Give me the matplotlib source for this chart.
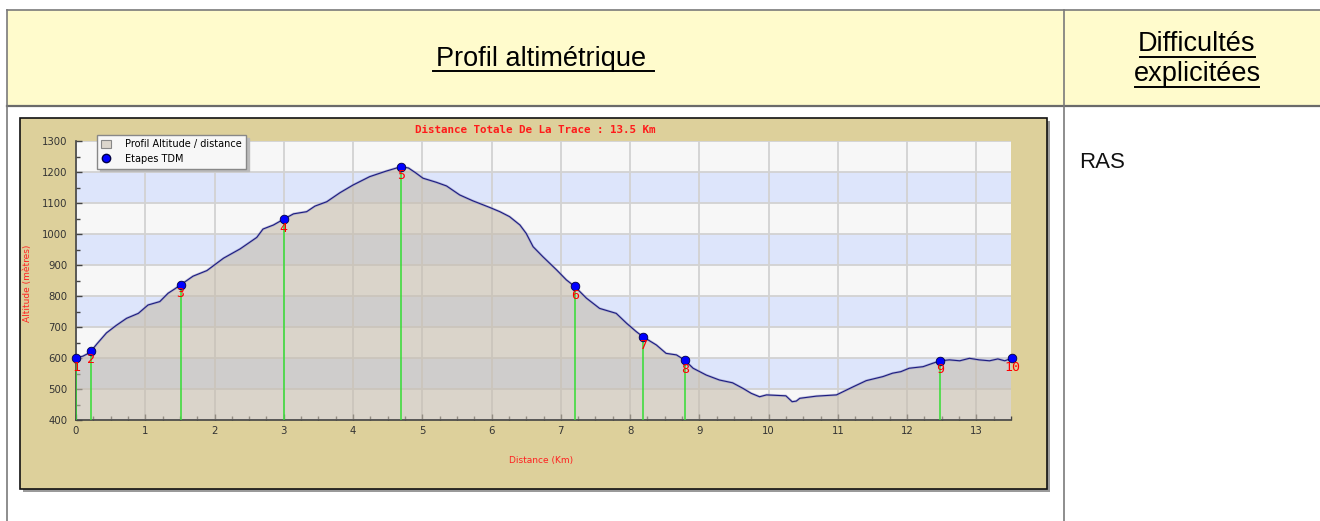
import matplotlib
matplotlib.use("Agg")
import matplotlib.pyplot as plt
from matplotlib.patches import Rectangle, Patch
from matplotlib.lines import Line2D
import numpy as np

# ---------------- data ----------------
dist_km = [0.00, 0.10, 0.17, 0.22, 0.30, 0.44, 0.58, 0.73, 0.90, 1.04, 1.21, 1.33, 1.42, 1.51,
           1.69, 1.89, 2.13, 2.37, 2.61, 2.70, 2.85, 3.00, 3.14, 3.33, 3.45, 3.62, 3.81, 4.00,
           4.24, 4.48, 4.69, 4.80, 4.90, 5.01, 5.20, 5.35, 5.54, 5.73, 5.97, 6.12, 6.26, 6.41,
           6.50, 6.60, 6.74, 6.94, 7.08, 7.20, 7.37, 7.56, 7.80, 7.95, 8.09, 8.19, 8.38, 8.52,
           8.67, 8.79, 8.91, 9.10, 9.29, 9.48, 9.63, 9.75, 9.87, 9.97, 10.25, 10.34, 10.40,
           10.45, 10.69, 10.98, 11.22, 11.41, 11.65, 11.79, 11.91, 12.03, 12.23, 12.37, 12.48,
           12.61, 12.76, 12.90, 13.04, 13.19, 13.31, 13.41, 13.52]
alt_m = [600, 606, 614, 623, 645, 681, 705, 728, 744, 771, 782, 809, 822, 836,
         864, 882, 922, 952, 989, 1016, 1029, 1048, 1065, 1072, 1090, 1104, 1133, 1158,
         1185, 1203, 1217, 1213, 1198, 1180, 1167, 1155, 1126, 1107, 1086, 1072, 1056, 1029,
         1002, 959, 927, 884, 852, 831, 793, 760, 744, 712, 685, 668, 642, 615,
         610, 593, 567, 545, 529, 520, 502, 486, 475, 481, 478, 459, 461,
         470, 477, 481, 507, 527, 540, 551, 556, 567, 572, 583, 591,
         594, 591, 599, 594, 591, 597, 591, 600]

wp_km = [0.00, 0.22, 1.51, 3.00, 4.69, 7.20, 8.19, 8.79, 12.48, 13.52]
wp_alt = [600, 623, 836, 1048, 1217, 831, 668, 593, 591, 600]
wp_labels = ["1", "2", "3", "4", "5", "6", "7", "8", "9", "10"]

y_ticks = [400, 500, 600, 700, 800, 900, 1000, 1100, 1200, 1300]
x_ticks = list(range(0, 14))

title_text = "Distance Totale De La Trace : 13.5 Km"
header_left = "Profil altimétrique"
header_right = ["Difficultés", "explicitées"]
body_right = "RAS"
legend_labels = ["Profil Altitude / distance", "Etapes TDM"]
xlabel = "Distance (Km)"
ylabel = "Altitude (mètres)"

# ---------------- figure ----------------
W, H = 1320, 521
fig = plt.figure(figsize=(W / 100, H / 100), dpi=100)
fig.patch.set_facecolor("white")

bg = fig.add_axes([0, 0, 1, 1])
bg.set_xlim(0, W)
bg.set_ylim(H, 0)
bg.axis("off")

# table header
bg.add_patch(Rectangle((7, 10), W - 7, 96, facecolor="#fffbcc", edgecolor="none", zorder=0))
grey = "#7a7a7a"
bg.plot([7, W], [10, 10], color=grey, lw=1.2)
bg.plot([7, W], [106, 106], color="#6a6a6a", lw=1.6)
bg.plot([7, 7], [10, H], color=grey, lw=1.2)
bg.plot([1064, 1064], [10, H], color=grey, lw=1.2)

hfont = ["Liberation Sans", "DejaVu Sans"]
bg.text(541, 59, header_left, ha="center", va="center", fontsize=19.5,
        family=hfont, color="black", fontweight="medium")
bg.plot([433, 654], [71, 71], color="black", lw=1.4)
bg.text(1197, 44, header_right[0], ha="center", va="center", fontsize=19.5, family=hfont)
bg.plot([1140, 1255], [57, 57], color="black", lw=1.4)
bg.text(1197, 74, header_right[1], ha="center", va="center", fontsize=19.5, family=hfont)
bg.plot([1135, 1259], [87, 87], color="black", lw=1.4)
bg.text(1079, 162, body_right, ha="left", va="center", fontsize=16,
        family=["Liberation Sans", "DejaVu Sans"], color="#111111")

# chart frame with shadow
bg.add_patch(Rectangle((23, 121), 1027, 371, facecolor="#9a9a9a", edgecolor="none", zorder=1))
bg.add_patch(Rectangle((20, 118), 1027, 371, facecolor="#ddd09b", edgecolor="#111111",
                       lw=1.2, zorder=2))
bg.text(535, 130, title_text, ha="center", va="center", fontsize=7.8,
        family="DejaVu Sans Mono", fontweight="bold", color="#ff1a1a", zorder=3)
bg.text(541, 460, xlabel, ha="center", va="center", fontsize=6.5, color="#ff2020", zorder=3)
bg.text(28, 283, ylabel, ha="center", va="center", fontsize=6.5, color="#ff2020",
        rotation=90, zorder=3)

# ---------------- plot ----------------
x0, x1, y0, y1 = 76, 1011, 141, 420
ax = fig.add_axes([x0 / W, 1 - y1 / H, (x1 - x0) / W, (y1 - y0) / H])
ax.set_xlim(0, 13.5)
ax.set_ylim(400, 1300)
ax.set_facecolor("#f7f7f7")

for i in range(len(y_ticks) - 1):
    if i % 2 == 1:
        ax.axhspan(y_ticks[i], y_ticks[i + 1], facecolor="#dde5fb", edgecolor="none", zorder=0)

ax.set_xticks(x_ticks)
ax.set_yticks(y_ticks)
ax.set_xticks(np.arange(0, 13.51, 0.25), minor=True)
ax.set_yticks(np.arange(400, 1301, 50), minor=True)
ax.grid(True, which="major", color="#d2d2d2", lw=1.3, zorder=0.5)
ax.set_axisbelow(True)

ax.fill_between(dist_km, alt_m, 400, facecolor=(0.78, 0.74, 0.68), alpha=0.6,
                edgecolor="none", zorder=1)
ax.plot(dist_km, alt_m, color="#8888c0", lw=1.8, zorder=2, alpha=0.5)
ax.plot(dist_km, alt_m, color="#1c1c80", lw=0.8, zorder=3)

ax.vlines(wp_km, 400, wp_alt, color="#33dd33", lw=1.1, zorder=4)
ax.plot(wp_km, wp_alt, "o", color="#0000ff", markeredgecolor="#000044", markeredgewidth=0.6,
        markersize=6.2, zorder=6, clip_on=False)
for xk, ya, lab in zip(wp_km, wp_alt, wp_labels):
    ax.annotate(lab, (xk, ya), xytext=(0, -6.5), textcoords="offset points",
                ha="center", va="center", fontsize=9.5, color="#ff0000",
                family="DejaVu Sans Mono", zorder=7, annotation_clip=False)

for s in ["top", "right"]:
    ax.spines[s].set_visible(False)
for s in ["left", "bottom"]:
    ax.spines[s].set_color("#444444")
    ax.spines[s].set_linewidth(1.2)
ax.tick_params(which="both", direction="in", color="#444444", labelcolor="#333333",
               labelsize=7.3)
ax.tick_params(which="major", length=4, width=1)
ax.tick_params(which="minor", length=3, width=1)
ax.tick_params(axis="x", pad=4)
ax.tick_params(axis="y", pad=6)

handles = [Patch(facecolor="#dcd6cc", edgecolor="#888888", lw=0.8),
           Line2D([], [], marker="o", color="none", markerfacecolor="#0000ff",
                  markeredgecolor="#000044", markersize=6)]
leg = fig.legend(handles, legend_labels, loc="upper left",
                 bbox_to_anchor=(97 / W, 1 - 135 / H), fontsize=7, frameon=True,
                 fancybox=False, shadow={"color": "#bbbbbb", "alpha": 1}, framealpha=1,
                 facecolor="#f7f7f7",
                 edgecolor="#888888", borderpad=0.45, labelspacing=0.5,
                 handlelength=1.0, handleheight=1.0, handletextpad=1.4, borderaxespad=0)
leg.set_zorder(10)

fig.savefig("out.png", dpi=100, facecolor=fig.get_facecolor())
